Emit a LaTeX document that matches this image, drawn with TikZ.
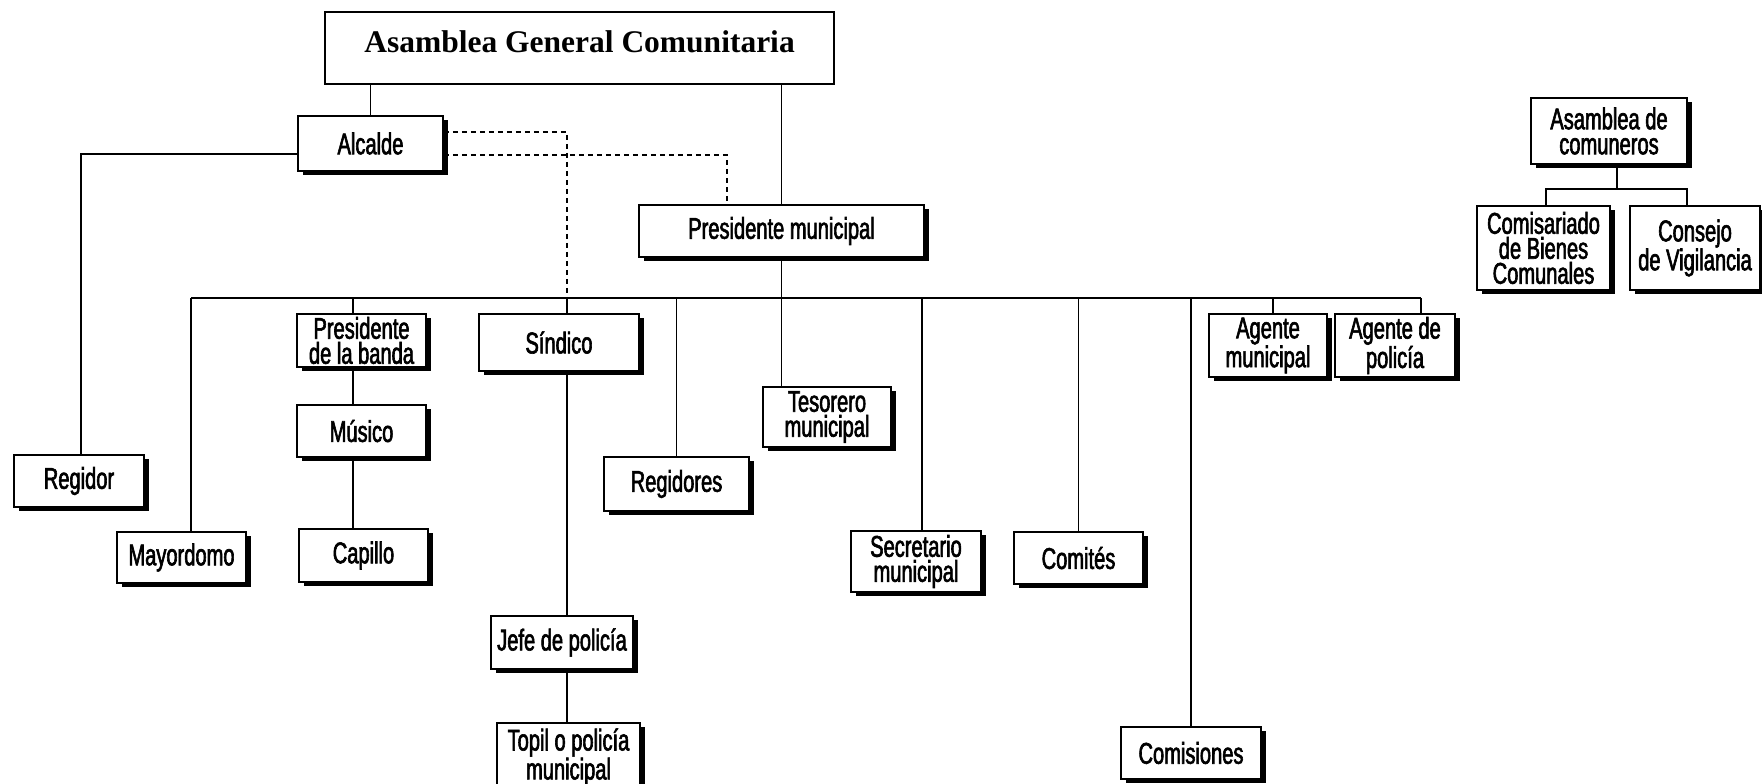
\documentclass[tikz,border=0pt]{standalone}
\usepackage{fontspec}
\usetikzlibrary{shadows}
\newfontfamily\labelfont[FakeStretch=0.67,FakeBold=2]{Liberation Sans}
\newfontfamily\headfont{Liberation Serif}

\tikzset{
  orgbox/.style={draw, line width=1.8pt, fill=white, rectangle, inner sep=0pt, align=center,
    font=\labelfont\fontsize{30}{25}\selectfont,
    drop shadow={shadow xshift=4.5pt, shadow yshift=-4pt, opacity=1, fill=black}},
  ob/.style 2 args={orgbox, minimum width=#1, minimum height=#2},
  topbox/.style={draw, line width=1.6pt, fill=white, rectangle, inner sep=0pt,
    minimum width=509pt, minimum height=72pt, text height=22pt, text depth=12pt,
    font=\headfont\bfseries\fontsize{31.5}{36}\selectfont},
  link/.style={line width=1.5pt},
  dotlink/.style={line width=1.5pt, dash pattern=on 5.5pt off 3.5pt},
}

\begin{document}
\begin{tikzpicture}[x=1pt,y=1pt]
\useasboundingbox (0,0) rectangle (1762,-784);
\clip (0,0) rectangle (1762,-784);
\fill[white] (0,0) rectangle (1762,-784);

% top of the structure
\node[topbox] (asamblea) at (579.5,-48) {Asamblea General Comunitaria};
\node[ob={145pt}{55pt}] (alcalde) at (370.5,-143.5) {Alcalde};
\node[ob={285pt}{52pt}] (presmun) at (781.5,-231) {Presidente municipal};

% communal assembly branch
\node[ob={156pt}{66pt}] (asamcom) at (1609,-131) {Asamblea de\\comuneros};
\node[ob={133pt}{84pt}] (comisariado) at (1543.5,-248) {Comisariado\\de Bienes\\Comunales};
\node[ob={130pt}{84pt}] (consejo) at (1695,-248) {Consejo\\de Vigilancia};

% offices hanging from the bus
\node[ob={129pt}{53pt}] (presbanda) at (361.5,-340.5) {Presidente\\de la banda};
\node[ob={160pt}{57pt}] (sindico) at (559,-342.5) {Síndico};
\node[ob={128pt}{60pt}] (tesorero) at (827,-417) {Tesorero\\municipal};
\node[ob={118pt}{63pt}] (agmun) at (1268,-345.5) {Agente\\municipal};
\node[ob={120pt}{63pt}] (agpol) at (1395,-345.5) {Agente de\\policía};
\node[ob={129pt}{52pt}] (musico) at (361.5,-431) {Músico};
\node[ob={130pt}{52pt}] (regidor) at (79,-481) {Regidor};
\node[ob={145pt}{54pt}] (regidores) at (676.5,-484) {Regidores};
\node[ob={129pt}{51pt}] (mayordomo) at (181.5,-557.5) {Mayordomo};
\node[ob={129pt}{53pt}] (capillo) at (363.5,-555.5) {Capillo};
\node[ob={130pt}{61pt}] (secretario) at (916,-561.5) {Secretario\\municipal};
\node[ob={129pt}{52pt}] (comites) at (1078.5,-558) {Comités};
\node[ob={142pt}{53pt}] (jefe) at (562,-642.5) {Jefe de policía};
\node[ob={143pt}{68pt}] (topil) at (568.5,-757) {Topil o policía\\municipal};
\node[ob={140pt}{52pt}] (comisiones) at (1191,-753) {Comisiones};

% tap points
\coordinate (busL) at (191,-298);
\coordinate (busR) at (1421,-298);
\coordinate (sindtap) at ([xshift=8pt]sindico.north);
\coordinate (bandatap) at ([xshift=-8.5pt]presbanda.north);
\coordinate (secrtap) at ([xshift=6pt]secretario.north);
\coordinate (agmtap) at ([xshift=5pt]agmun.north);
\coordinate (presdot) at ([xshift=89pt]presmun.north west);
\coordinate (comtap) at ([xshift=8pt]asamcom.south);
\coordinate (combus) at ([yshift=-24pt]comtap);
\coordinate (comL) at ([xshift=2.5pt]comisariado.north);
\coordinate (comR) at ([xshift=-8pt]consejo.north);

% connectors
\draw[link] (alcalde.north) -- (alcalde.north |- asamblea.south);
\draw[link] (presmun.north) -- (presmun.north |- asamblea.south);
\draw[link] ([yshift=-10.5pt]alcalde.east -| alcalde.west) -| ([xshift=2pt]regidor.north);
\draw[dotlink] ([yshift=11.5pt]alcalde.east) -| (sindtap |- busL);
\draw[dotlink] ([yshift=-11.5pt]alcalde.east) -| (presdot);

\draw[link] (busL) -- (busR);
\draw[link] (busL) -- (busL |- mayordomo.north);
\draw[link] (bandatap |- busL) -- (bandatap);
\draw[link] (bandatap |- presbanda.south) -- (bandatap |- musico.north);
\draw[link] (bandatap |- musico.south) -- (bandatap |- capillo.north);
\draw[link] (sindtap |- busL) -- (sindtap);
\draw[link] (sindtap |- sindico.south) -- (sindtap |- jefe.north);
\draw[link] (sindtap |- jefe.south) -- (sindtap |- topil.north);
\draw[link] (regidores.north |- busL) -- (regidores.north);
\draw[link] (presmun.south) -- (presmun.south |- tesorero.north);
\draw[link] (secrtap |- busL) -- (secrtap);
\draw[link] (comites.north |- busL) -- (comites.north);
\draw[link] (comisiones.north |- busL) -- (comisiones.north);
\draw[link] (agmtap |- busL) -- (agmtap);
\draw[link] (busR) -- (busR |- agpol.north);

\draw[link] (comtap) -- (combus);
\draw[link] (comL) -- (comL |- combus) -- (comR |- combus) -- (comR);
\end{tikzpicture}
\end{document}
